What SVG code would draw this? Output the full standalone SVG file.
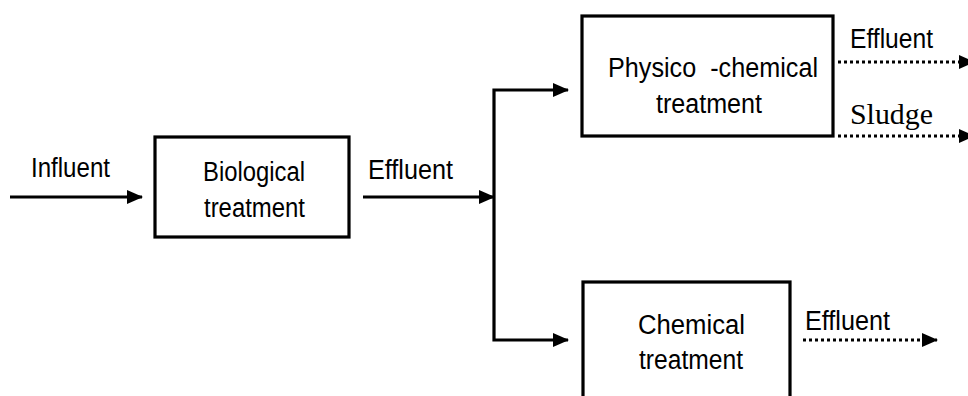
<svg xmlns="http://www.w3.org/2000/svg" width="968" height="396" viewBox="0 0 968 396">
<style>
.box{fill:#fff;stroke:#000;stroke-width:3.2}
.ln{fill:none;stroke:#000;stroke-width:3.2}
.dot{fill:none;stroke:#000;stroke-width:3.2;stroke-dasharray:3 3}
.t{font-family:"Liberation Sans",Arial,sans-serif;font-size:27px;fill:#000}
.s{font-family:"Liberation Serif","Times New Roman",serif;font-size:29px;fill:#000}
</style>
<defs>
<marker id="ah" viewBox="0 0 16 14" refX="15" refY="7" markerWidth="16" markerHeight="14" markerUnits="userSpaceOnUse" orient="auto">
<path d="M0,0 L16,7 L0,14 Z" fill="#000"/>
</marker>
</defs>
<g id="connectors">
<line class="ln" x1="10" y1="197" x2="142" y2="197" marker-end="url(#ah)"/>
<text class="t" x="31" y="177" textLength="79" lengthAdjust="spacingAndGlyphs">Influent</text>
<line class="ln" x1="363" y1="197" x2="494" y2="197" marker-end="url(#ah)"/>
<text class="t" x="368" y="179" textLength="85" lengthAdjust="spacingAndGlyphs">Effluent</text>
<polyline class="ln" points="494,196 494,90 568,90" marker-end="url(#ah)"/>
<polyline class="ln" points="494,196 494,340 568,340" marker-end="url(#ah)"/>
<line class="dot" x1="838" y1="62" x2="974" y2="62" marker-end="url(#ah)"/>
<text class="t" x="850" y="48" textLength="83" lengthAdjust="spacingAndGlyphs">Effluent</text>
<line class="dot" x1="838" y1="136" x2="974" y2="136" marker-end="url(#ah)"/>
<text class="s" x="850" y="124" textLength="83" lengthAdjust="spacingAndGlyphs">Sludge</text>
<line class="dot" x1="803" y1="340" x2="937" y2="340" marker-end="url(#ah)"/>
<text class="t" x="805" y="330" textLength="85" lengthAdjust="spacingAndGlyphs">Effluent</text>
</g>
<g id="biological">
<rect class="box" x="155" y="137" width="194" height="100"/>
<text class="t" x="203" y="181" textLength="102" lengthAdjust="spacingAndGlyphs">Biological</text>
<text class="t" x="204" y="217" textLength="101" lengthAdjust="spacingAndGlyphs">treatment</text>
</g>
<g id="physico">
<rect class="box" x="582" y="16" width="251" height="120"/>
<text class="t" x="608" y="77" textLength="210" lengthAdjust="spacingAndGlyphs" xml:space="preserve">Physico  -chemical</text>
<text class="t" x="656" y="113" textLength="106" lengthAdjust="spacingAndGlyphs">treatment</text>
</g>
<g id="chemical">
<rect class="box" x="583" y="282" width="207" height="130"/>
<text class="t" x="638" y="334" textLength="107" lengthAdjust="spacingAndGlyphs">Chemical</text>
<text class="t" x="639" y="369" textLength="104" lengthAdjust="spacingAndGlyphs">treatment</text>
</g>
</svg>
